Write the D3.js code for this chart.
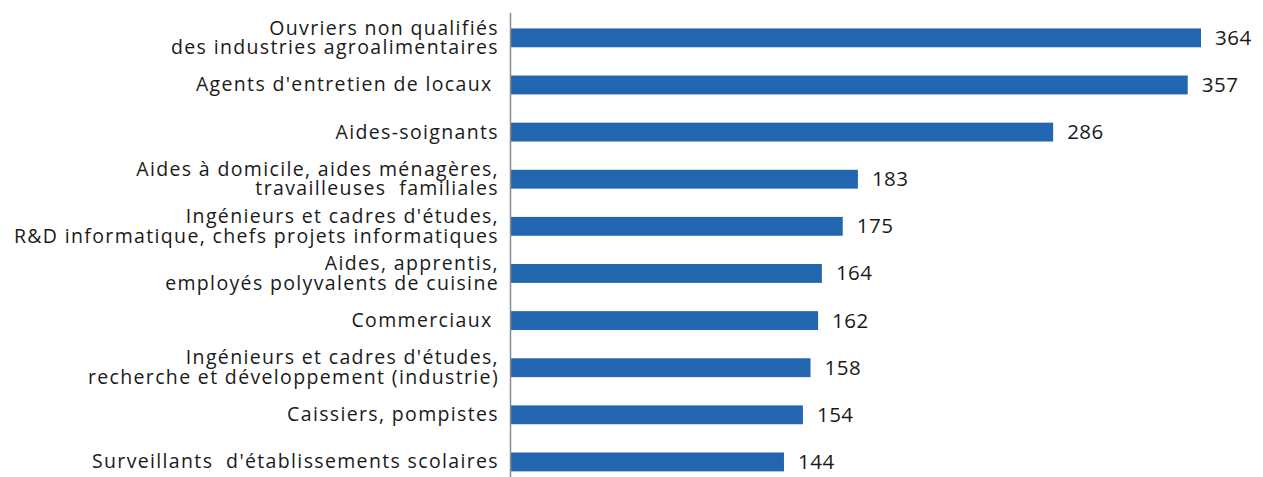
<!DOCTYPE html>
<html><head><meta charset="utf-8">
<script src="https://cdn.jsdelivr.net/npm/d3@7"></script>
<style>
html,body{margin:0;padding:0;background:#fff;}
svg text{font-family:"Open Sans",Lato,sans-serif;fill:#1a1a1a;white-space:pre;}
</style></head>
<body><svg id="c" width="1263" height="477"></svg>
<script>
const categories = [
  ["Ouvriers non qualifiés", "des industries agroalimentaires"],
  ["Agents d'entretien de locaux "],
  ["Aides-soignants"],
  ["Aides à domicile, aides ménagères,", "travailleuses  familiales"],
  ["Ingénieurs et cadres d'études,", "R&D informatique, chefs projets informatiques"],
  ["Aides, apprentis,", "employés polyvalents de cuisine"],
  ["Commerciaux "],
  ["Ingénieurs et cadres d'études,", "recherche et développement (industrie)"],
  ["Caissiers, pompistes"],
  ["Surveillants  d'établissements scolaires"]
];
const values = [364, 357, 286, 183, 175, 164, 162, 158, 154, 144];

const svg = d3.select("#c");
const x0 = 511;
const x = d3.scaleLinear().domain([0, 364]).range([x0, 1201]);
const y = d3.scaleBand().domain(d3.range(values.length)).range([14.3, 485.5]).paddingInner(0.6).paddingOuter(0.3);

const fs = 19.5;
svg.selectAll("rect.bar").data(values).join("rect")
  .attr("class","bar")
  .attr("x", x(0)).attr("y", (d,i)=>y(i))
  .attr("width", d=>x(d)-x(0)).attr("height", y.bandwidth())
  .attr("fill", "#2166ae");

svg.append("line").attr("x1", 510.5).attr("x2", 510.5).attr("y1", 13).attr("y2", 477)
  .attr("stroke", "#8c8c8c").attr("stroke-width", 1.5);

svg.selectAll("text.val").data(values).join("text")
  .attr("class","val")
  .attr("x", d=>x(d)+14).attr("y", (d,i)=>y(i)+y.bandwidth()/2+7)
  .attr("font-size", 20.5).style("letter-spacing","0.5px").text(d=>d);

categories.forEach((lines,i)=>{
  const cy = y(i)+y.bandwidth()/2;
  const t = svg.append("text").attr("text-anchor","end").attr("font-size", fs)
    .style("letter-spacing","1.35px");
  const n = lines.length;
  lines.forEach((s,k)=>{
    t.append("tspan").attr("x", 499)
      .attr("y", cy + 6.5 + (k - (n-1)/2)*19.5)
      .text(s);
  });
});
</script></body></html>
